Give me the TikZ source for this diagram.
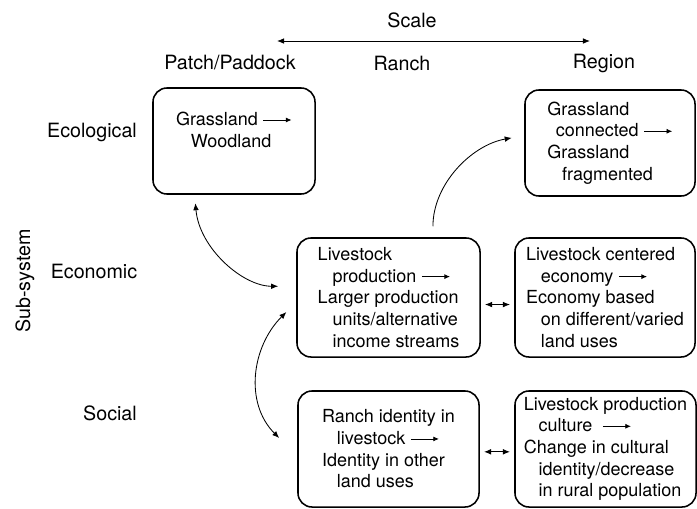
\documentclass[tikz,border=0pt]{standalone}
\usepackage{fontspec}
\setmainfont{TeX Gyre Heros}
\usetikzlibrary{arrows.meta}

\newcommand{\la}{\tikz[baseline=-0.6ex]\draw[line width=0.6pt,-{Latex[length=4pt,width=3.6pt]}] (0pt,0pt) -- (20pt,0pt);}
\newcommand{\ind}{\hspace*{10.5pt}}

\begin{document}
\begin{tikzpicture}[
		x=0.025cm, y=-0.025cm,
		box/.style={draw, line width=1.1pt, rounded corners=10pt, align=left, font=\fontsize{12.8}{15.4}\selectfont},
		lbl/.style={font=\fontsize{14}{16}\selectfont},
		link/.style={line width=0.6pt, {Latex[length=5pt,width=4pt]}-{Latex[length=5pt,width=4pt]}},
	]
		\useasboundingbox (0,0) rectangle (697,508);

		\node[lbl] (scale) at (412,20) {Scale};
		\coordinate (scaleL) at (277,41);
		\coordinate (scaleR) at (590,41);
		\draw[link] (scaleL) -- (scaleR);
		\node[lbl] (patch) at (230,63) {Patch/Paddock};
		\node[lbl] (ranch) at (402,63) {Ranch};
		\node[lbl] (region) at (604,63) {Region};

		\node[lbl] (eco) at (92,132) {Ecological};
		\node[lbl] (econ) at (94,271) {Economic};
		\node[lbl] (soc) at (110,413) {Social};
		\node[lbl, rotate=90] (sub) at (25,281) {Sub-system};

		\node[box, minimum width=4.05cm, minimum height=2.65cm, text depth=16pt] (ecoPatch) at (234,141) {Grassland \la\\\ind Woodland};
		\node[box, minimum width=4.25cm, minimum height=2.65cm] (ecoRegion) at (610,143) {Grassland\\\hspace*{6pt}connected \la\\Grassland\\\ind fragmented};
		\node[box, minimum width=4.575cm, minimum height=2.975cm] (econRanch) at (388.5,297.5) {Livestock\\\ind production \la\\Larger production\\\ind units/alternative\\\ind income streams};
		\node[box, minimum width=4.5cm, minimum height=2.975cm] (econRegion) at (605,297.5) {Livestock centered\\\ind economy \la\\Economy based\\\ind on different/varied\\\ind land uses};
		\node[box, minimum width=4.525cm, minimum height=2.9cm] (socRanch) at (388.5,449) {Ranch identity in\\\ind livestock \la\\Identity in other\\\ind land uses};
		\node[box, minimum width=4.525cm, minimum height=2.9cm] (socRegion) at (605.5,449) {Livestock production\\\ind culture \ \la\\Change in cultural\\\ind identity/decrease\\\ind in rural population};

		% between scales
		\draw[link, shorten <=3pt, shorten >=3pt] ([yshift=-5pt]econRanch.east) -- ([yshift=-5pt]econRegion.west);
		\draw[link, shorten <=3pt, shorten >=3pt] ([yshift=-2pt]socRanch.east) -- ([yshift=-2pt]socRegion.west);

		% between sub-systems
		\draw[link, shorten <=6pt, shorten >=12.8pt] ([xshift=-28pt]ecoPatch.south) to[out=-85, in=180] ([yshift=8pt]econRanch.west);
		\draw[link] ([xshift=-7pt,yshift=-10.3pt]econRanch.west) to[out=225, in=135] ([xshift=-12.8pt,yshift=7.8pt]socRanch.west);
		\draw[line width=0.6pt, -{Latex[length=5pt,width=4pt]}, shorten <=7.8pt, shorten >=9pt] ([xshift=31.6pt]econRanch.north) to[out=90, in=190] ([yshift=5.2pt]ecoRegion.west);
	\end{tikzpicture}
\end{document}
